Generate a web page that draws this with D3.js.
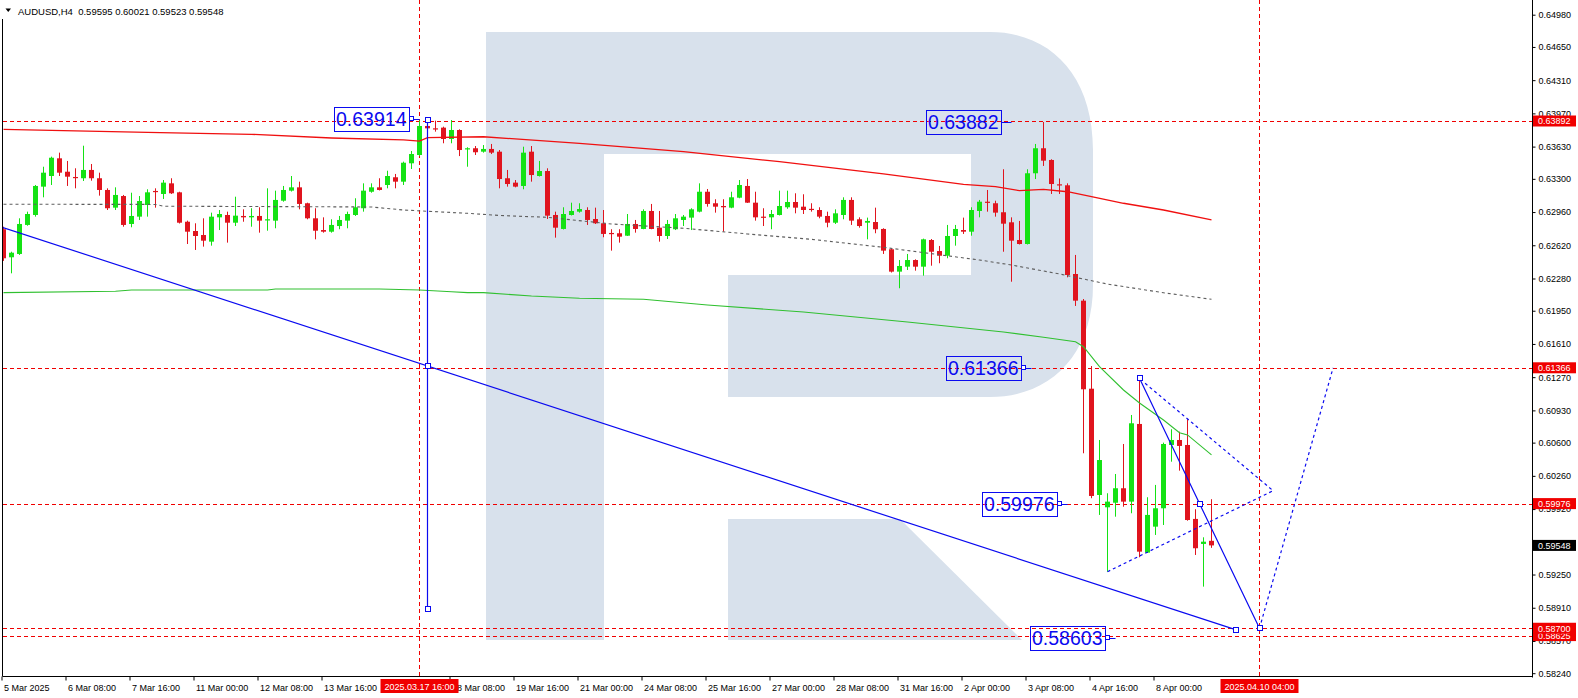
<!DOCTYPE html>
<html><head><meta charset="utf-8">
<script src="https://cdn.jsdelivr.net/npm/d3@7"></script>
<style>
html,body{margin:0;padding:0;background:#fff;overflow:hidden}
svg{display:block;font-family:"Liberation Sans",Arial,sans-serif}
</style></head><body>
<svg id="chart" width="1578" height="698"></svg>
<script>
// ---------------- DATA ----------------
const symbolTitle = "AUDUSD,H4  0.59595 0.60021 0.59523 0.59548";
const opens = [.62784,.62497,.62531,.62828,.62930,.63220,.63329,.63510,.63373,.63319,.63306,.63391,.63306,.63186,.63005,.63124,.62838,.62913,.63032,.63176,
.63145,.63254,.63162,.62861,.62766,.62725,.62657,.62906,.62930,.62851,.62920,.62906,.62920,.62879,.62872,.63076,.63179,.63213,.63050,.62896,
.62776,.62759,.62817,.62872,.62930,.62999,.63168,.63213,.63237,.63316,.63271,.63459,.63544,.63841,.63817,.63824,.63708,.63800,.63602,.63613,
.63578,.63606,.63578,.63306,.63261,.63227,.63578,.63329,.63380,.62930,.62787,.62930,.62964,.62981,.62889,.62845,.62746,.62743,.62718,.62838,
.62787,.62971,.62800,.62715,.62784,.62879,.62903,.62964,.63168,.63050,.63022,.63005,.63107,.63227,.63056,.62913,.62906,.62930,.63009,.63063,
.63015,.62993,.62981,.62920,.62851,.62930,.63084,.62886,.62851,.62858,.62787,.62579,.62350,.62401,.62469,.62401,.62674,.62561,.62513,.62715,
.62776,.62759,.62971,.63066,.63050,.62958,.62855,.62674,.62633,.63357,.63613,.63493,.63244,.63234,.62326,.62053,.61152,.60064,.59938,.59985,
.60133,.59996,.60791,.59474,.59740,.59928,.60576,.60627,.60576,.59819,.59563,.59595];
const highs = [.62810,.62554,.62896,.62964,.63237,.63424,.63527,.63568,.63483,.63408,.63639,.63452,.63363,.63203,.63213,.63135,.63158,.63124,.63193,.63203,
.63288,.63306,.63168,.62872,.62845,.62896,.62954,.62981,.62964,.63117,.62988,.62999,.63009,.63203,.63179,.63227,.63329,.63271,.63056,.62999,
.62906,.62886,.62920,.62964,.63101,.63254,.63254,.63306,.63383,.63350,.63476,.63585,.63895,.63914,.63895,.63834,.63902,.63807,.63623,.63636,
.63646,.63657,.63595,.63391,.63288,.63629,.63636,.63483,.63408,.62964,.63009,.63056,.63050,.63009,.63005,.62981,.62784,.62784,.62940,.62879,
.62988,.63043,.62971,.62879,.62940,.62930,.62999,.63254,.63196,.63091,.63091,.63168,.63288,.63298,.63168,.62999,.62981,.63179,.63179,.63152,
.63142,.63050,.63009,.62964,.62988,.63111,.63111,.62906,.62903,.63005,.62794,.62589,.62469,.62531,.62476,.62688,.62684,.62613,.62828,.62828,
.62903,.63009,.63084,.63186,.63076,.63398,.62906,.62869,.63398,.63657,.63882,.63500,.63304,.63254,.62521,.62070,.61384,.60627,.60082,.60279,
.60586,.60883,.61259,.60041,.60167,.60600,.60737,.60712,.60839,.59918,.59631,.60021];
const lows = [.62460,.62333,.62521,.62820,.62913,.63111,.63237,.63329,.63227,.63203,.63278,.63281,.63128,.62981,.62981,.62810,.62804,.62879,.62913,.63005,
.63094,.63145,.62843,.62633,.62572,.62606,.62616,.62776,.62647,.62817,.62861,.62810,.62749,.62769,.62794,.63066,.63170,.62988,.62886,.62681,
.62749,.62749,.62784,.62794,.62920,.62964,.63158,.63181,.63203,.63203,.63237,.63401,.63533,.63800,.63783,.63664,.63664,.63533,.63424,.63544,
.63568,.63554,.63203,.63220,.63213,.63193,.63271,.63324,.62889,.62698,.62782,.62925,.62954,.62828,.62838,.62702,.62565,.62647,.62715,.62749,
.62784,.62784,.62657,.62684,.62776,.62817,.62776,.62957,.63015,.62954,.62759,.62999,.63101,.63053,.62872,.62817,.62784,.62925,.62993,.62947,
.62940,.62964,.62896,.62804,.62838,.62886,.62828,.62800,.62681,.62743,.62531,.62341,.62180,.62367,.62360,.62309,.62411,.62436,.62487,.62616,
.62736,.62718,.62906,.62964,.62913,.62554,.62247,.62628,.62628,.63298,.63432,.63145,.63145,.62292,.61999,.60491,.60031,.59860,.59279,.59842,
.59944,.59877,.59427,.59471,.59655,.59757,.60405,.60313,.59801,.59450,.59126,.59523];
const closes = [.62487,.62544,.62838,.62940,.63227,.63363,.63516,.63363,.63322,.63312,.63391,.63306,.63186,.62999,.63135,.62828,.62920,.63073,.63162,.63168,
.63261,.63152,.62851,.62759,.62715,.62667,.62913,.62940,.62851,.62923,.62906,.62920,.62872,.62886,.63084,.63186,.63213,.63043,.62896,.62769,
.62759,.62828,.62879,.62940,.63009,.63179,.63213,.63186,.63329,.63271,.63465,.63554,.63841,.63817,.63807,.63708,.63800,.63595,.63613,.63572,
.63606,.63568,.63298,.63247,.63220,.63568,.63339,.63380,.62923,.62800,.62940,.62971,.62991,.62879,.62845,.62736,.62739,.62708,.62838,.62787,
.62971,.62787,.62715,.62838,.62896,.62913,.62988,.63168,.63043,.63015,.63009,.63111,.63237,.63056,.62906,.62903,.62940,.63022,.63063,.63005,
.62981,.62988,.62913,.62851,.62947,.63084,.62872,.62817,.62869,.62784,.62565,.62350,.62408,.62469,.62401,.62681,.62554,.62513,.62715,.62787,
.62759,.62981,.63066,.63060,.62954,.62841,.62667,.62633,.63357,.63613,.63486,.63247,.63234,.62316,.62053,.61146,.60054,.60422,.59996,.60133,
.59996,.60798,.59484,.59860,.59928,.60586,.60627,.60566,.59808,.59519,.59586,.59548];

// moving averages: bar index / value pairs
const redMaIdx = [0,18,31,41,50,52,53,60,72,85,97,110,120,124,127,130,133,136,140,145,151];
const redMaVal = [0.63807,0.63776,0.63756,0.63718,0.63698,0.63687,0.63721,0.63731,0.63664,0.63578,0.63476,0.63350,0.63244,0.63220,0.63179,0.63193,0.63168,0.63117,0.63050,0.62981,0.62879];
const grayMaIdx = [0,19,20,46,50,58,62,68,76,85,93,101,110,122,126,132,138,145,151];
const grayMaVal = [0.63040,0.63038,0.63020,0.63012,0.62981,0.62947,0.62925,0.62906,0.62838,0.62794,0.62736,0.62681,0.62599,0.62469,0.62418,0.62326,0.62223,0.62134,0.62067];
const greenMaIdx = [0,14,16,33,34,47,52,56,58,60,66,72,80,88,100,113,125,130,134,135,137,140,142,145,147,148,151];
const greenMaVal = [0.62135,0.62149,0.62162,0.62162,0.62172,0.62172,0.62162,0.62145,0.62135,0.62135,0.62101,0.62078,0.62067,0.62009,0.61937,0.61835,0.61733,0.61678,0.61633,0.61582,0.61377,0.61139,0.61006,0.60832,0.60702,0.60679,0.60474];

// axis ticks
const priceTicks = [0.64980,0.64650,0.64310,0.63970,0.63630,0.63300,0.62960,0.62620,0.62280,0.61950,0.61610,0.61270,0.60930,0.60600,0.60260,0.59920,0.59580,0.59250,0.58910,0.58570,0.58240];
const timeTickIdx = [0,8,16,24,32,40,56,64,72,80,88,96,104,112,120,128,136,144];
const timeTickLabels = ["5 Mar 2025","6 Mar 08:00","7 Mar 16:00","11 Mar 00:00","12 Mar 08:00","13 Mar 16:00","18 Mar 08:00","19 Mar 16:00","21 Mar 00:00","24 Mar 08:00","25 Mar 16:00","27 Mar 00:00","28 Mar 08:00","31 Mar 16:00","2 Apr 00:00","3 Apr 08:00","4 Apr 16:00","8 Apr 00:00"];

// horizontal levels and markers
const levelPrices = [0.63892,0.61366,0.59976,0.58625,0.58700];
const bidPrice = 0.59548;
const vLineIdx = [52,157];
const vLineLabels = ["2025.03.17 16:00","2025.04.10 04:00"];

// price label objects
const labelTexts = ["0.63914","0.63882","0.61366","0.59976","0.58603"];
const labelIdx = [51,125,127.5,132,138];
const labelPrices = [0.63914,0.63882,0.61366,0.59976,0.58603];

// trend objects (bar index, price)
const vSegIdx = 53, vSegTop = 0.63914, vSegBottom = 0.58898;
const trendA = [53,0.61384], trendB = [154,0.58686];
const wedgeSolid = [[142,0.61259],[149.5,0.59976],[157,0.58700]];
const wedgeUpper = [[142.7,0.61207],[158.7,0.60108]];
const wedgeLower = [[138,0.59279],[158.7,0.60108]];
const projection = [[157,0.58700],[161.4,0.59976],[166.2,0.61366]];

// ---------------- DRAW ----------------
const GREEN = "#14e214", RED = "#e0141e", BLUE = "#0a0af0", LRED = "#f00000";
const svg = d3.select("#chart");
const xs = d3.scaleLinear().domain([0,1]).range([3.5,11.5]);
const ys = d3.scaleLinear().domain([0.58240,0.64980]).range([673.2,14.7]);
const plotR = 1532.5, plotB = 676.5;

svg.append("defs").append("clipPath").attr("id","clip")
  .append("rect").attr("x",3).attr("y",0).attr("width",plotR-3).attr("height",plotB);

// watermark
const wm = svg.append("g").attr("fill","#d8e1ec");
wm.append("path").attr("d","M486,32 H990 C1050,32 1093,75 1093,150 V285 C1093,355 1050,397 990,397 H728 V275 H971 V154 H604 V640 H486 Z");
wm.append("path").attr("d","M728,519 H900 L1022,640 H728 Z");

const plot = svg.append("g").attr("clip-path","url(#clip)");

// levels
const sy = v => Math.round(ys(v)) + 0.5;
plot.selectAll("line.lvl").data(levelPrices).join("line")
  .attr("x1",3).attr("x2",plotR).attr("y1",d=>sy(d)).attr("y2",d=>sy(d))
  .attr("stroke",LRED).attr("stroke-dasharray","4,3");
plot.selectAll("line.vl").data(vLineIdx).join("line")
  .attr("x1",d=>Math.round(xs(d))-0.5).attr("x2",d=>Math.round(xs(d))-0.5).attr("y1",0).attr("y2",plotB)
  .attr("stroke",LRED).attr("stroke-dasharray","4,3");

// candles
const candles = opens.map((o,i)=>({i,o,h:highs[i],l:lows[i],c:closes[i]}));
plot.selectAll("line.wick").data(candles).join("line")
  .attr("x1",d=>xs(d.i)).attr("x2",d=>xs(d.i))
  .attr("y1",d=>ys(d.h)).attr("y2",d=>ys(d.l))
  .attr("stroke",d=>d.c>=d.o?GREEN:RED).attr("stroke-width",1);
plot.selectAll("rect.body").data(candles).join("rect")
  .attr("x",d=>xs(d.i)-2.5).attr("width",5)
  .attr("y",d=>ys(Math.max(d.o,d.c)))
  .attr("height",d=>Math.max(1.2, ys(Math.min(d.o,d.c))-ys(Math.max(d.o,d.c))))
  .attr("fill",d=>d.c>=d.o?GREEN:RED);

// moving averages
const ln = d3.line().x(d=>xs(d[0])).y(d=>ys(d[1]));
plot.append("path").attr("d",ln(grayMaIdx.map((v,i)=>[v,grayMaVal[i]])))
  .attr("fill","none").attr("stroke","#5e5e5e").attr("stroke-width",1.1).attr("stroke-dasharray","3,3");
plot.append("path").attr("d",ln(greenMaIdx.map((v,i)=>[v,greenMaVal[i]])))
  .attr("fill","none").attr("stroke","#30c030").attr("stroke-width",1.1);
plot.append("path").attr("d",ln(redMaIdx.map((v,i)=>[v,redMaVal[i]])))
  .attr("fill","none").attr("stroke","#f01010").attr("stroke-width",1.3);

// blue objects
const square = (g,x,y)=>g.append("rect").attr("x",Math.round(x)-2.5).attr("y",Math.round(y)-2.5)
  .attr("width",5).attr("height",5).attr("fill","#fff").attr("stroke",BLUE);
const ob = plot.append("g");
const slope = (ys(trendB[1])-ys(trendA[1]))/(xs(trendB[0])-xs(trendA[0]));
ob.append("line").attr("x1",3).attr("y1",ys(trendA[1]) + (3-xs(trendA[0]))*slope)
  .attr("x2",xs(trendB[0])).attr("y2",ys(trendB[1])).attr("stroke",BLUE).attr("stroke-width",1.2);
ob.append("line").attr("x1",Math.round(xs(vSegIdx))-0.5).attr("x2",Math.round(xs(vSegIdx))-0.5)
  .attr("y1",ys(vSegTop)).attr("y2",ys(vSegBottom)).attr("stroke",BLUE).attr("stroke-width",1.2);
ob.append("path").attr("d",ln(wedgeSolid)).attr("fill","none").attr("stroke",BLUE).attr("stroke-width",1.2);
[wedgeUpper,wedgeLower,projection].forEach(p=>ob.append("path").attr("d",ln(p)).attr("fill","none")
  .attr("stroke",BLUE).attr("stroke-width",1.2).attr("stroke-dasharray","3,3"));
square(ob,xs(vSegIdx),ys(vSegTop)+1);
square(ob,xs(vSegIdx),ys(vSegBottom));
square(ob,xs(trendA[0]),ys(trendA[1]));
square(ob,xs(trendB[0]),ys(trendB[1]));
wedgeSolid.forEach(p=>square(ob,xs(p[0]),ys(p[1])));

// price label boxes
labelTexts.forEach((t,i)=>{
  const ax = xs(labelIdx[i]), ay = ys(labelPrices[i]);
  const g = ob.append("g");
  const tx = g.append("text").attr("x",ax-5).attr("y",ay+7.3).attr("text-anchor","end")
    .attr("font-size",19.5).attr("fill",BLUE).text(t);
  const w = tx.node().getComputedTextLength();
  g.insert("rect","text").attr("x",Math.round(ax-2-w-5)+0.5).attr("y",Math.round(ay-12)+0.5)
    .attr("width",Math.round(w+4)).attr("height",24).attr("fill","none").attr("stroke",BLUE);
  g.append("line").attr("x1",ax-2).attr("x2",ax+8).attr("y1",Math.round(ay)+0.5).attr("y2",Math.round(ay)+0.5)
    .attr("stroke",BLUE);
  if (i!==1) g.append("rect").attr("x",Math.round(ax)-2.5).attr("y",Math.round(ay)-2.5).attr("width",4).attr("height",4)
    .attr("fill","#fff").attr("stroke",BLUE);
});

// frame
svg.append("line").attr("x1",2.5).attr("x2",2.5).attr("y1",19).attr("y2",plotB).attr("stroke","#000");
svg.append("line").attr("x1",2.5).attr("x2",plotR).attr("y1",plotB).attr("y2",plotB).attr("stroke","#000");
svg.append("line").attr("x1",plotR).attr("x2",plotR).attr("y1",0).attr("y2",plotB+1).attr("stroke","#000");

// right price axis
const ay = svg.append("g").attr("transform",`translate(${plotR},0)`)
  .call(d3.axisRight(ys).tickValues(priceTicks).tickFormat(d3.format(".5f")).tickSize(3).tickPadding(3));
ay.select(".domain").remove();
ay.selectAll("text").attr("font-size",9).attr("font-family","Liberation Sans, Arial").attr("fill","#000");
ay.selectAll("line").attr("stroke","#000");

// bottom time axis
const ax = svg.append("g").attr("transform",`translate(-2,${plotB})`)
  .call(d3.axisBottom(xs).tickValues(timeTickIdx).tickFormat((d,i)=>timeTickLabels[i]).tickSize(4).tickPadding(4));
ax.select(".domain").remove();
ax.selectAll("text").attr("font-size",9).attr("font-family","Liberation Sans, Arial").attr("fill","#000")
  .attr("text-anchor","start").attr("x",2);
ax.selectAll("line").attr("stroke","#000");

// right side value tags
const tag = (v,bg)=>{
  const y = ys(v);
  svg.append("rect").attr("x",1533).attr("y",y-5.5).attr("width",43).attr("height",11).attr("fill",bg);
  svg.append("text").attr("x",1538).attr("y",y+3.3).attr("font-size",9).attr("fill","#fff").text(d3.format(".5f")(v));
};
levelPrices.forEach(v=>tag(v,"#f00000"));
tag(bidPrice,"#000");

// vertical line date tags
vLineIdx.forEach((v,i)=>{
  const x = Math.round(xs(v))-0.5;
  svg.append("rect").attr("x",x-39).attr("y",679).attr("width",78).attr("height",14).attr("fill","#f00000");
  svg.append("text").attr("x",x).attr("y",690).attr("text-anchor","middle").attr("font-size",9)
    .attr("fill","#fff").text(vLineLabels[i]);
});

// header
svg.append("path").attr("d","M5.5,8.5 L11,8.5 L8.25,12 Z").attr("fill","#000");
svg.append("text").attr("x",18).attr("y",15).attr("font-size",9.5).attr("fill","#000")
  .attr("xml:space","preserve").style("white-space","pre").text(symbolTitle);
</script>
</body></html>
